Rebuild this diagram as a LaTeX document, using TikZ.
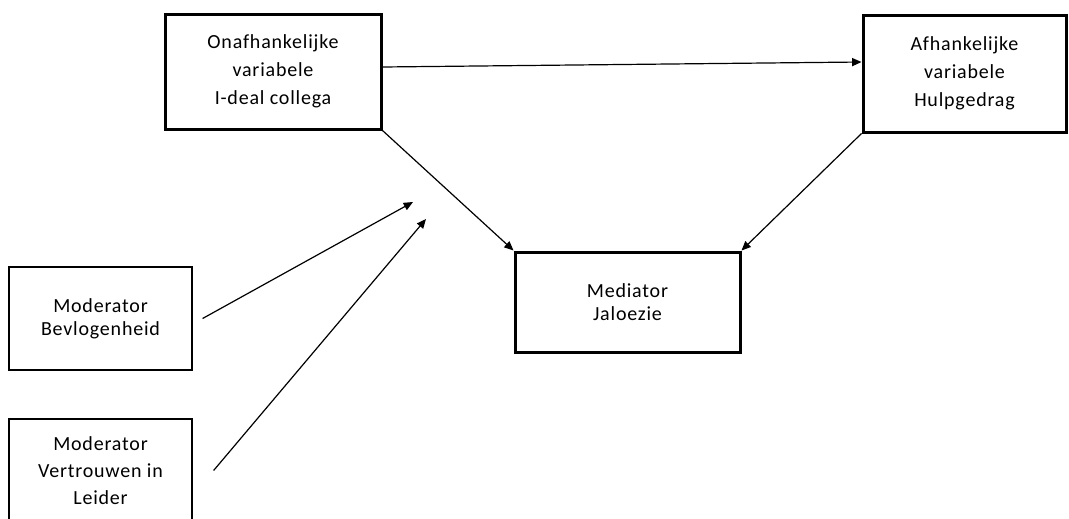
\documentclass[tikz,border=0pt]{standalone}
\usepackage{fontspec}
\setmainfont{Carlito}[LetterSpace=4,Ligatures=NoCommon]
\usetikzlibrary{arrows.meta,calc}
\begin{document}
\begin{tikzpicture}[x=0.75pt,y=-0.75pt,
  box/.style={draw=black,fill=white,align=center,inner sep=0pt,font=\fontsize{15}{21}\selectfont},
  thickbox/.style={box,line width=2.25pt},
  thinbox/.style={box,line width=0.9pt},
  arr/.style={line width=0.9pt,-{Triangle[length=7pt,width=6pt]}}]
\clip (0,0) rectangle (1069,518);
\fill[white] (0,0) rectangle (1069,518);
\node[thickbox,minimum width=162pt,minimum height=86.25pt] (A) at (273,71.5)
  {\raisebox{-3.5pt}{\parbox{150pt}{\centering Onafhankelijke\\variabele\\I-deal collega}}};
\node[thickbox,minimum width=152.25pt,minimum height=87.75pt] (B) at (964.5,73.5)
  {\raisebox{-3.5pt}{\parbox{140pt}{\centering Afhankelijke\\variabele\\Hulpgedrag}}};
\node[thickbox,minimum width=168.75pt,minimum height=75pt,font=\fontsize{15}{17.25}\selectfont] (C) at (627.5,302)
  {Mediator\\Jaloezie};
\node[thinbox,minimum width=137.25pt,minimum height=77.25pt,font=\fontsize{15}{17.25}\selectfont] (D) at (100.5,318.5)
  {Moderator\\Bevlogenheid};
\node[thinbox,minimum width=137.25pt,minimum height=77.25pt,font=\fontsize{15}{20.25}\selectfont] (E) at (100.5,470.5)
  {Moderator\\Vertrouwen in\\Leider};
\coordinate (m1) at (413,202);
\coordinate (m2) at (426,219);
\draw[arr] ($(A.east)+(0,-4.5)$) -- ($(B.west)+(0,-11.5)$);
\draw[arr] (A.south east) -- (C.north west);
\draw[arr] (B.south west) -- (C.north east);
\draw[arr] ($(D.east)+(10,0)$) -- (m1);
\draw[arr] ($(E.east)+(21,0)$) -- (m2);
\end{tikzpicture}
\end{document}
